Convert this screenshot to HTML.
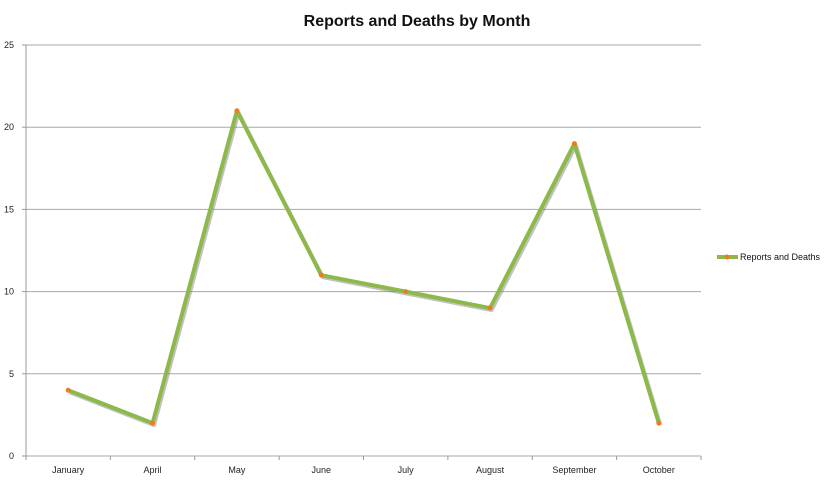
<!DOCTYPE html>
<html><head><meta charset="utf-8"><style>
body{margin:0;background:#fff;}
svg{display:block;font-family:"Liberation Sans",sans-serif;}
</style></head><body>
<svg id="chart" width="826" height="481">
<text x="417" y="26" text-anchor="middle" font-size="16" font-weight="bold" fill="#111">Reports and Deaths by Month</text>
<g id="grid"></g><g id="axes"></g><g id="series"></g>
<g>
<line x1="717" y1="257" x2="738" y2="257" stroke="#8cb94a" stroke-width="4"/>
<circle cx="727" cy="257" r="2.5" fill="#f07a1e"/>
<text x="740" y="260" font-size="9" textLength="80" lengthAdjust="spacingAndGlyphs" fill="#111">Reports and Deaths</text>
</g>
</svg>
<script>
const categories=["January","April","May","June","July","August","September","October"];
const values=[4,2,21,11,10,9,19,2];
const yTicks=[0,5,10,15,20,25];
const X0=26,X1=701,Y0=456,Y1=45,YMAX=25;
const ns="http://www.w3.org/2000/svg";
const bw=(X1-X0)/categories.length;
const x=i=>X0+bw*(i+0.5);
const y=v=>Y0-(v/YMAX)*(Y0-Y1);
function mk(t,a,p){const e=document.createElementNS(ns,t);for(const k in a)e.setAttribute(k,a[k]);p.appendChild(e);return e;}
const grid=document.getElementById('grid'),axes=document.getElementById('axes'),ser=document.getElementById('series');
yTicks.forEach(v=>{
 const l=mk('line',{x1:X0,x2:X1,y1:y(v),y2:y(v),stroke:'#a8a8a8','stroke-width':1},grid);
 
 
 const t=mk('text',{x:14,y:y(v)+3,'text-anchor':'end','font-size':9,fill:'#222'},axes);
 t.textContent=v;
 
 
 mk('line',{x1:X0-4,x2:X0,y1:y(v),y2:y(v),stroke:'#999'},axes);
});
mk('line',{x1:X0,x2:X0,y1:Y1,y2:Y0+4,stroke:'#999'},axes);
for(let i=0;i<=categories.length;i++)mk('line',{x1:X0+bw*i,x2:X0+bw*i,y1:Y0,y2:Y0+4,stroke:'#999'},axes);
categories.forEach((c,i)=>{
 const t=mk('text',{x:x(i),y:Y0+17,'text-anchor':'middle','font-size':9,fill:'#222'},axes);
 t.textContent=c;
 
 
});
const pts=values.map((v,i)=>x(i)+','+y(v)).join(' ');
mk('polyline',{points:values.map((v,i)=>(x(i)+1.5)+','+(y(v)+2)).join(' '),fill:'none',stroke:'#777','stroke-width':4,opacity:0.45,'stroke-linejoin':'round'},ser);
const pl=mk('polyline',{points:pts,fill:'none',stroke:'#8cb94a','stroke-width':4,'stroke-linejoin':'round'},ser);


values.forEach((v,i)=>{
 const c=mk('circle',{cx:x(i),cy:y(v),r:2.5,fill:'#f07a1e'},ser);
 
 
});
</script>
</body></html>
